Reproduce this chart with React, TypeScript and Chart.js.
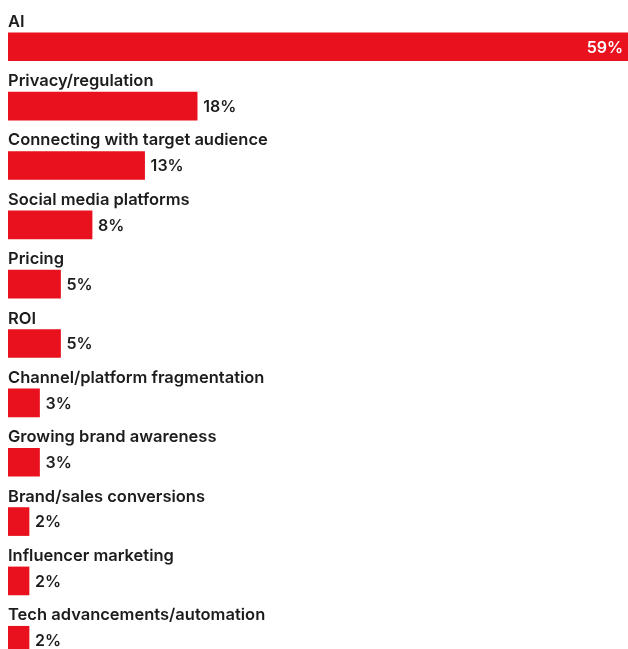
import React, { useEffect, useRef } from "react";
import { Chart, registerables } from "chart.js";

Chart.register(...registerables);

const categories = [
  "AI",
  "Privacy/regulation",
  "Connecting with target audience",
  "Social media platforms",
  "Pricing",
  "ROI",
  "Channel/platform fragmentation",
  "Growing brand awareness",
  "Brand/sales conversions",
  "Influencer marketing",
  "Tech advancements/automation",
];
const values = [59, 18, 13, 8, 5, 5, 3, 3, 2, 2, 2];
const valueLabels = values.map((v) => `${v}%`);

const RED = "#E8111D";
const TEXT = "#1c1c1c";
const FONT = "Inter, 'Noto Sans', sans-serif";

const labelPlugin = {
  id: "barLabels",
  afterDatasetsDraw(chart: any) {
    const ctx = chart.ctx;
    const meta = chart.getDatasetMeta(0);
    const xScale = chart.scales.x;
    ctx.save();
    meta.data.forEach((bar: any, i: number) => {
      const props = bar.getProps(["x", "y", "base", "height"], true);
      const top = props.y - props.height / 2;
      // category label above bar
      ctx.font = `600 16.5px ${FONT}`;
      ctx.fillStyle = TEXT;
      ctx.textAlign = "left";
      ctx.textBaseline = "alphabetic";
      ctx.fillText(categories[i], xScale.left, top - 6);
      // value label
      ctx.font = `600 16px ${FONT}`;
      ctx.textBaseline = "middle";
      const txt = valueLabels[i];
      const w = ctx.measureText(txt).width;
      if (props.x + 6 + w > chart.width) {
        ctx.fillStyle = "#ffffff";
        ctx.textAlign = "right";
        ctx.fillText(txt, props.x - 5, props.y + 1);
      } else {
        ctx.fillStyle = TEXT;
        ctx.textAlign = "left";
        ctx.fillText(txt, props.x + 6, props.y + 1);
      }
    });
    ctx.restore();
  },
};

export default function App() {
  const ref = useRef<HTMLCanvasElement>(null);
  useEffect(() => {
    if (!ref.current) return;
    const chart = new Chart(ref.current, {
      type: "bar",
      data: {
        labels: categories,
        datasets: [
          {
            data: values,
            backgroundColor: RED,
            borderWidth: 0,
            barThickness: 28,
          },
        ],
      },
      options: {
        indexAxis: "y",
        responsive: false,
        animation: false,
        layout: { padding: { left: 8, right: 0, top: 17.1, bottom: 0.05 } },
        scales: {
          x: { display: false, min: 0, max: 59 },
          y: { display: false },
        },
        plugins: {
          legend: { display: false },
          tooltip: { enabled: false },
        },
      },
      plugins: [labelPlugin],
    });
    return () => chart.destroy();
  }, []);
  return (
    <canvas
      ref={ref}
      width={628}
      height={670}
      style={{ position: "fixed", left: 0, top: 0, width: 628, height: 670 }}
    />
  );
}
